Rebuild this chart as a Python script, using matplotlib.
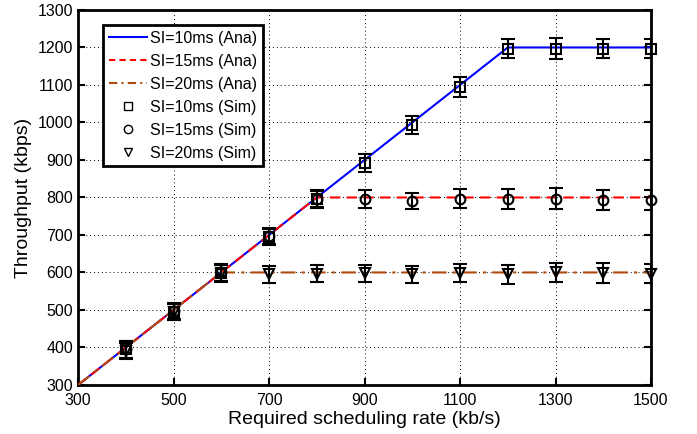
import matplotlib.pyplot as plt
from matplotlib.lines import Line2D

plt.rcParams['font.family'] = ['Liberation Sans', 'DejaVu Sans']

# analytische Kurven
x_ana = [300, 600, 800, 1200, 1500]
y_ana_10 = [300, 600, 800, 1200, 1200]
y_ana_15 = [300, 600, 800, 800, 800]
y_ana_20 = [300, 600, 600, 600, 600]

# Simulation (Mittelwert + Fehler)
x_sim_10 = [400, 500, 600, 700, 800, 900, 1000, 1100, 1200, 1300, 1400, 1500]
y_sim_10 = [395, 495, 598, 695, 795, 893, 993, 1095, 1197, 1197, 1197, 1197]
e_sim_10 = [22, 22, 22, 22, 22, 24, 24, 26, 26, 28, 26, 26]

x_sim_15 = [400, 500, 600, 700, 800, 900, 1000, 1100, 1200, 1300, 1400, 1500]
y_sim_15 = [395, 497, 600, 697, 797, 797, 790, 797, 795, 797, 793, 793]
e_sim_15 = [22, 22, 22, 22, 22, 24, 22, 26, 27, 29, 27, 26]

x_sim_20 = [400, 500, 600, 700, 800, 900, 1000, 1100, 1200, 1300, 1400, 1500]
y_sim_20 = [390, 495, 597, 595, 597, 598, 595, 598, 595, 600, 598, 597]
e_sim_20 = [22, 22, 22, 22, 22, 23, 22, 24, 25, 26, 27, 25]

fig = plt.figure(figsize=(6.97, 4.34), dpi=100)
ax = fig.add_axes([0.112, 0.113, 0.822, 0.864])

ax.plot(x_ana, y_ana_10, color='#0000ff', lw=1.5, zorder=3)
ax.plot(x_ana, y_ana_15, color='#ff0000', lw=1.5, ls=(0, (5, 3)), zorder=3)
ax.plot(x_ana, y_ana_20, color='#b04a10', lw=1.5, ls=(0, (7, 3, 1.5, 3)), zorder=3)

for xs, ys, es, m in [(x_sim_10, y_sim_10, e_sim_10, 's'),
                      (x_sim_15, y_sim_15, e_sim_15, 'o'),
                      (x_sim_20, y_sim_20, e_sim_20, 'v')]:
    ax.errorbar(xs, ys, yerr=es, fmt='none', ecolor='black', elinewidth=1.5,
                capsize=5, capthick=1.5, zorder=4)
    ax.plot(xs, ys, ls='none', marker=m, mfc='none', mec='black', mew=1.5, ms=7,
            zorder=5, clip_on=False)

ax.set_xlim(300, 1500)
ax.set_ylim(300, 1300)
ax.set_xticks(range(300, 1501, 200))
ax.set_yticks(range(300, 1301, 100))
ax.tick_params(direction='in', length=5, width=1.5, labelsize=11.5, top=False, right=True)
ax.tick_params(axis='x', pad=6)
ax.grid(True, color='black', ls=(0, (1, 3)), lw=0.7)
for s in ax.spines.values():
    s.set_linewidth(2)

ax.set_xlabel('Required scheduling rate (kb/s)', fontsize=14, labelpad=2)
ax.set_ylabel('Throughput (kbps)', fontsize=14, labelpad=4)

handles = [
    Line2D([], [], color='#0000ff', lw=1.5),
    Line2D([], [], color='#ff0000', lw=1.5, ls=(0, (3, 2))),
    Line2D([], [], color='#b04a10', lw=1.5, ls=(0, (4, 2, 1, 2))),
    Line2D([], [], ls='none', marker='s', mfc='none', mec='black', ms=6),
    Line2D([], [], ls='none', marker='o', mfc='none', mec='black', ms=6),
    Line2D([], [], ls='none', marker='v', mfc='none', mec='black', ms=6),
]
labels = ['SI=10ms (Ana)', 'SI=15ms (Ana)', 'SI=20ms (Ana)',
          'SI=10ms (Sim)', 'SI=15ms (Sim)', 'SI=20ms (Sim)']
leg = ax.legend(handles, labels, loc='upper left', bbox_to_anchor=(0.044, 0.96),
                fontsize=11.5, fancybox=False, framealpha=1, edgecolor='black',
                handlelength=2.4, handletextpad=0.2, labelspacing=0.5,
                borderpad=0.35, borderaxespad=0)
leg.get_frame().set_linewidth(2)

fig.savefig('out.png', dpi=100)
